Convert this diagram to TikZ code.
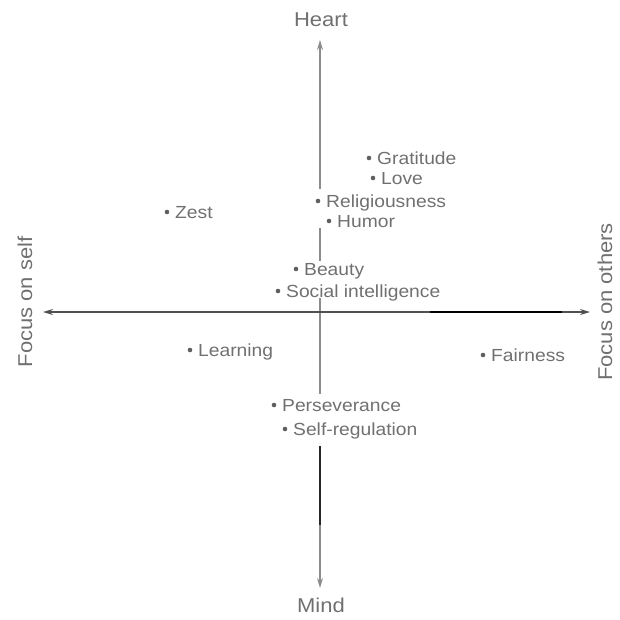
\documentclass[tikz,border=0pt]{standalone}
\usepackage{fontspec}
\setmainfont{Liberation Sans}[FakeStretch=1.1]
\usetikzlibrary{arrows.meta}
\definecolor{txt}{HTML}{707070}
\definecolor{axv}{HTML}{8C8C8C}
\definecolor{axh}{HTML}{505050}
\tikzset{
  itemtxt/.style={anchor=base west, inner sep=0pt, text=txt, font=\fontsize{17.5}{19}\selectfont},
  axtxt/.style={inner sep=0pt, text=txt, font=\fontsize{20}{22}\selectfont},
  dotc/.style={fill=txt!85!black},
  vax/.style={draw=axv, line width=1.3pt},
  hax/.style={draw=axh, line width=1.6pt},
  tip/.style={-{Stealth[length=10pt,width=6pt]}}
}
\newcommand\itm[4]{%
  \coordinate (#1d) at (#2,#3);
  \fill[dotc] (#1d) circle (2.3pt);
  \node[itemtxt] (#1) at ([xshift=8pt,yshift=-6pt]#1d) {#4};}
\begin{document}
\begin{tikzpicture}[x=1pt,y=-1pt]
\useasboundingbox (0,0) rectangle (620,619);
% axis labels
\node[axtxt] (heart) at (321,20) {Heart};
\node[axtxt] (mind) at (321,605) {Mind};
\node[axtxt, rotate=90] (self) at (25,302) {Focus on self};
\node[axtxt, rotate=90] (others) at (605,302) {Focus on others};
% axis coordinates
\coordinate (vtop) at (320,40);
\coordinate (v1) at (320,189);
\coordinate (v2) at (320,228);
\coordinate (v3) at (320,261);
\coordinate (v4) at (320,298);
\coordinate (v5) at (320,394);
\coordinate (v6) at (320,446);
\coordinate (v7) at (320,525);
\coordinate (vbot) at (320,588);
\coordinate (hl) at (43,312);
\coordinate (hr) at (590,312);
\coordinate (hk1) at (430,312);
\coordinate (hk2) at (562,312);
% vertical axis
\draw[vax, tip] (v1) -- (vtop);
\draw[vax] (v2) -- (v3);
\draw[vax] (v4) -- (v5);
\draw[vax, line width=1.8pt, draw=black!85] (v6) -- (v7);
\draw[vax, tip] (v7) -- (vbot);
% horizontal axis
\draw[hax, {Stealth[length=10pt,width=6pt]}-{Stealth[length=10pt,width=6pt]}, draw=axh] (hl) -- (hr);
\draw[hax, draw=black] (hk1) -- (hk2);
% items
\itm{grat}{369}{158}{Gratitude}
\itm{love}{373}{178}{Love}
\itm{rel}{318}{201}{Religiousness}
\itm{hum}{329}{221}{Humor}
\itm{zest}{167}{212}{Zest}
\itm{beauty}{296}{269}{Beauty}
\itm{social}{278}{291}{Social intelligence}
\itm{learn}{190}{350}{Learning}
\itm{fair}{483}{355}{Fairness}
\itm{pers}{274}{405}{Perseverance}
\itm{selfreg}{285}{429}{Self-regulation}
\end{tikzpicture}
\end{document}
